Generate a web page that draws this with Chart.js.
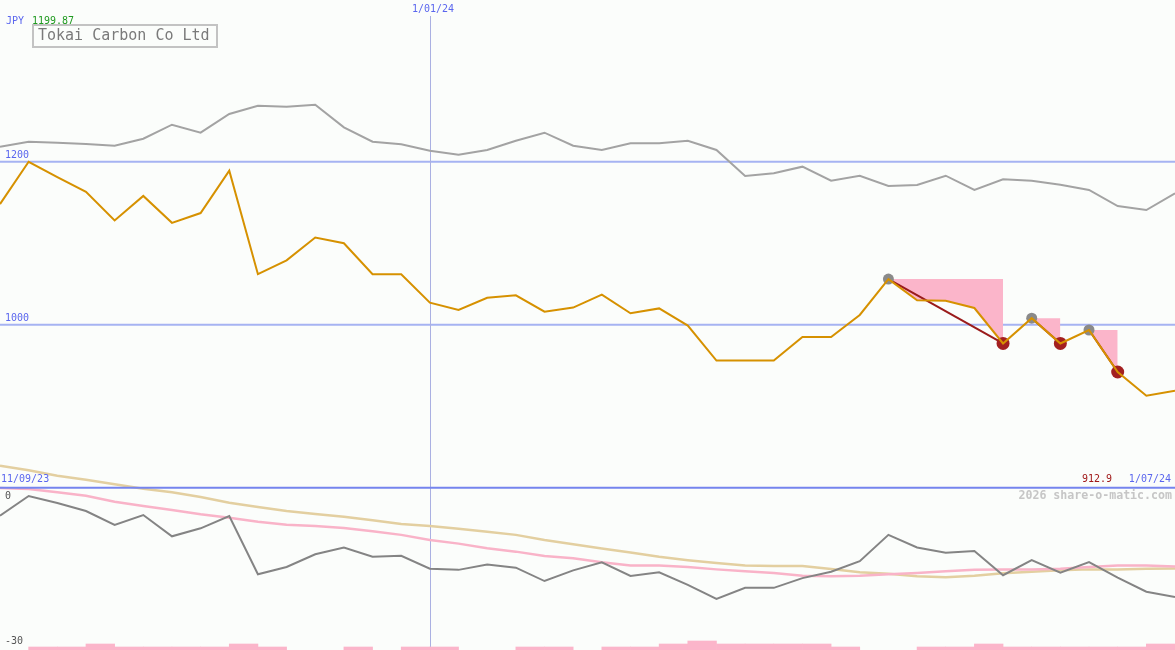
<!DOCTYPE html>
<html><head><meta charset="utf-8">
<script src="https://cdn.jsdelivr.net/npm/chart.js@4.4.1/dist/chart.umd.min.js"></script>
<style>html,body{margin:0;padding:0;background:#fbfdfb;overflow:hidden}canvas{display:block}</style>
</head><body>
<canvas id="c" width="1175" height="650"></canvas>
<script>
// ---- data (weekly points, index 0..41) ----
const companyName = 'Tokai Carbon Co Ltd';
const currency = 'JPY';
const priceClose = [1148, 1199.87, 1181, 1163, 1128, 1158, 1125, 1137, 1189, 1062, 1079, 1107, 1100, 1062, 1062, 1027, 1018, 1033, 1036, 1016, 1021,
  1037, 1014, 1020, 999, 956, 956, 956, 985, 985, 1012, 1056, 1030, 1029.5, 1020.5, 977, 1008, 977, 993.5, 942, 912.9, 919];
const compareIndex = [1218.4, 1224.5, 1223.3, 1221.7, 1219.6, 1228.2, 1245.4, 1235.6, 1258.5, 1268.7, 1267.5, 1269.9, 1242.2, 1224.5, 1221.3, 1213.5, 1208.6, 1214.4, 1225.8, 1235.6, 1219.6,
  1214.4, 1222.6, 1222.6, 1225.8, 1214.4, 1182.5, 1185.8, 1193.9, 1176.7, 1182.8, 1170.2, 1171.4, 1182.8, 1165.3, 1178.4, 1176.7, 1171.8, 1165.3, 1145.6, 1140.7, 1161.2];
const relPerf = [-4.05, 0, -1.44, -3.09, -5.97, -3.91, -8.3, -6.65, -4.12, -16.1, -14.6, -12.0, -10.6, -12.5, -12.3, -14.95, -15.2, -14.1, -14.75, -17.5, -15.3,
  -13.65, -16.46, -15.7, -18.3, -21.2, -18.9, -18.9, -16.9, -15.6, -13.4, -8.0, -10.6, -11.7, -11.3, -16.3, -13.2, -15.8, -13.6, -16.8, -19.7, -20.8];
const maFast = [1.65, 1.44, 0.75, 0.07, -1.17, -2.06, -2.88, -3.77, -4.46, -5.28, -5.9, -6.17, -6.58, -7.27, -8.0, -9.05, -9.8, -10.77, -11.45, -12.35, -12.8,
  -13.65, -14.3, -14.3, -14.6, -15.1, -15.5, -15.85, -16.4, -16.5, -16.4, -16.1, -15.85, -15.5, -15.2, -15.1, -15.1, -14.95, -14.6, -14.3, -14.3, -14.5];
const maSlow = [6.23, 5.28, 4.18, 3.35, 2.41, 1.5, 0.75, -0.2, -1.37, -2.26, -3.09, -3.7, -4.25, -5.0, -5.76, -6.17, -6.72, -7.34, -8.0, -9.05, -9.94,
  -10.8, -11.65, -12.5, -13.2, -13.8, -14.3, -14.4, -14.4, -15.0, -15.7, -16.0, -16.5, -16.7, -16.4, -15.9, -15.6, -15.3, -15.1, -15.1, -14.95, -14.9];
// volume level per week interval (between point j and j+1)
const volume = [null, 1, 1, 2, 1, 1, 1, 1, 2, 1, null, null, 1, null, 1, 1, null, null, 1, 1, null,
  1, 1, 2, 3, 2, 2, 2, 2, 1, null, null, 1, 1, 2, 1, 1, 1, 1, 1, 2];
const ddPeakIdx = [31, 36, 38];
const ddTroughIdx = [35, 37, 39];
const priceTicks = [1000, 1200];
const panelSeparator = 800;
const lowerTicks = [0, -30];
const dateTickIdx = [0, 15, 41];
const dateTickLabels = ['11/09/23', '1/01/24', '1/07/24'];
const watermark = '2026 share-o-matic.com';

// ---- build datasets ----
const pts = arr => arr.map((v, i) => ({x: i, y: v}));
const PINK = '#fbb5ca';
const datasets = [];
datasets.push({type: 'line', label: companyName, data: pts(priceClose), yAxisID: 'y', borderColor: '#d69100', borderWidth: 2, pointRadius: 0, tension: 0, fill: false, order: 1});
datasets.push({type: 'line', label: 'peaks', data: ddPeakIdx.map(i => ({x: i, y: priceClose[i]})), yAxisID: 'y', showLine: false, pointRadius: 5.5, pointBackgroundColor: '#8a8a8a', pointBorderWidth: 0, order: 3});
datasets.push({type: 'line', label: 'troughs', data: ddTroughIdx.map(i => ({x: i, y: priceClose[i]})), yAxisID: 'y', showLine: false, pointRadius: 6.5, pointBackgroundColor: '#a32020', pointBorderWidth: 0, order: 3});
ddPeakIdx.forEach((p, k) => {
  const t = ddTroughIdx[k];
  datasets.push({type: 'line', label: 'dd line ' + k, data: [{x: p, y: priceClose[p]}, {x: t, y: priceClose[t]}], yAxisID: 'y', borderColor: '#9a1b1b', borderWidth: 2, pointRadius: 0, fill: false, order: 4});
  datasets.push({type: 'line', label: 'dd area ' + k, data: [{x: p, y: priceClose[p]}, {x: t, y: priceClose[p]}], yAxisID: 'y', borderColor: 'rgba(0,0,0,0)', backgroundColor: PINK, borderWidth: 1, pointRadius: 0, fill: 0, order: 9});
});
datasets.push({type: 'line', label: 'index', data: pts(compareIndex), yAxisID: 'y', borderColor: '#a3a3a3', borderWidth: 2, pointRadius: 0, fill: false, order: 5});
datasets.push({type: 'line', label: 'relative', data: pts(relPerf), yAxisID: 'y2', borderColor: '#848484', borderWidth: 2, pointRadius: 0, fill: false, order: 5});
datasets.push({type: 'line', label: 'ma fast', data: pts(maFast), yAxisID: 'y2', borderColor: '#f9b3c8', borderWidth: 2.5, pointRadius: 0, fill: false, order: 6});
datasets.push({type: 'line', label: 'ma slow', data: pts(maSlow), yAxisID: 'y2', borderColor: '#e3cfa0', borderWidth: 2.5, pointRadius: 0, fill: false, order: 7});
datasets.push({type: 'bar', label: 'volume', data: volume.map((v, j) => ({x: j + 0.5, y: v})), yAxisID: 'y3', backgroundColor: PINK, borderWidth: 0, barPercentage: 1, categoryPercentage: 1, order: 10});

const MONO = "'DejaVu Sans Mono', 'Liberation Mono', monospace";
const BLUE = '#5a66ee';
const overlay = {
  id: 'overlay',
  beforeDraw(chart) {
    const {ctx, width, height} = chart;
    ctx.save(); ctx.fillStyle = '#fbfdfb'; ctx.fillRect(0, 0, width, height); ctx.restore();
  },
  beforeDatasetsDraw(chart) {
    const {ctx, chartArea: a, scales} = chart;
    ctx.save();
    ctx.lineWidth = 2; ctx.strokeStyle = '#a6b3f2';
    priceTicks.forEach(v => {
      const py = scales.y.getPixelForValue(v);
      ctx.beginPath(); ctx.moveTo(a.left, py); ctx.lineTo(a.right, py); ctx.stroke();
    });
    ctx.lineWidth = 1; ctx.strokeStyle = '#aab0e2';
    const vx = Math.round(scales.x.getPixelForValue(dateTickIdx[1])) + 0.5;
    ctx.beginPath(); ctx.moveTo(vx, 16); ctx.lineTo(vx, a.bottom); ctx.stroke();
    ctx.restore();
  },
  afterDatasetsDraw(chart) {
    const {ctx, chartArea: a, scales} = chart;
    ctx.save();
    // panel separator
    const sy = scales.y.getPixelForValue(panelSeparator);
    ctx.lineWidth = 2; ctx.strokeStyle = '#7584ee';
    ctx.beginPath(); ctx.moveTo(a.left, sy); ctx.lineTo(a.right, sy); ctx.stroke();

    ctx.textBaseline = 'middle';
    ctx.font = '10px ' + MONO;
    // price tick labels
    ctx.fillStyle = BLUE; ctx.textAlign = 'left';
    priceTicks.forEach(v => ctx.fillText(String(v), 5, scales.y.getPixelForValue(v) - 6));
    // lower tick labels
    ctx.fillStyle = '#555555';
    lowerTicks.forEach(v => ctx.fillText(String(v), 5, scales.y2.getPixelForValue(v)));
    // header
    ctx.fillStyle = BLUE; ctx.fillText(currency, 6, 21);
    ctx.fillStyle = '#1f9a1f'; ctx.fillText(Math.max(...priceClose).toFixed(2), 32, 21);
    // dates
    ctx.fillStyle = BLUE;
    ctx.textAlign = 'center';
    ctx.fillText(dateTickLabels[1], Math.round(scales.x.getPixelForValue(dateTickIdx[1])) + 3, 9.5);
    ctx.textAlign = 'left';
    ctx.fillText(dateTickLabels[0], 1, sy - 8);
    ctx.textAlign = 'right';
    ctx.fillText(dateTickLabels[2], a.right - 4, sy - 8);
    ctx.fillStyle = '#a01818';
    ctx.fillText(String(Math.min(...priceClose)), a.right - 63, sy - 8);
    // watermark
    ctx.font = 'bold 11.6px ' + MONO;
    ctx.fillStyle = '#c6c6c6';
    ctx.fillText(watermark, a.right - 3, sy + 8.5);
    // legend box
    ctx.lineWidth = 2; ctx.strokeStyle = '#c3c3c3';
    ctx.strokeRect(33, 25, 184, 22);
    ctx.font = '15px ' + MONO; ctx.fillStyle = '#7a7a7a'; ctx.textAlign = 'left';
    ctx.fillText(companyName, 38, 36.5);
    ctx.restore();
  }
};

new Chart(document.getElementById('c'), {
  type: 'line',
  data: {datasets},
  options: {
    responsive: false,
    devicePixelRatio: 1,
    animation: false,
    layout: {padding: 0, autoPadding: false},
    events: [],
    plugins: {legend: {display: false}, tooltip: {enabled: false}, title: {display: false}},
    scales: {
      x: {type: 'linear', display: false, min: 0, max: 41, offset: false},
      y: {type: 'linear', display: false, min: 600.9, max: 1398.4},
      y2: {type: 'linear', display: false, min: -31.69, max: 102.06},
      y3: {type: 'linear', display: false, min: 0, max: 216.67}
    }
  },
  plugins: [overlay]
});
</script>
</body></html>
